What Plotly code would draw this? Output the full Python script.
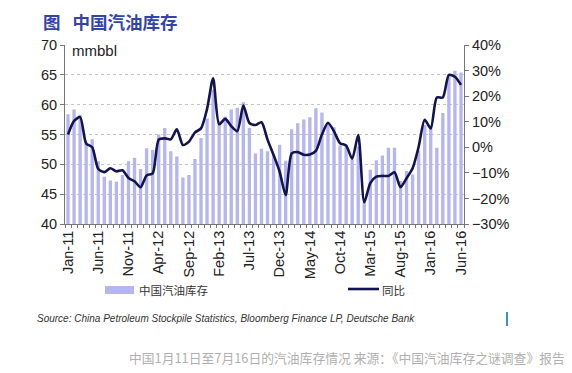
import plotly.graph_objects as go

# ---- data ----
tick_labels = ["Jan-11", "Jun-11", "Nov-11", "Apr-12", "Sep-12", "Feb-13", "Jul-13",
               "Dec-13", "May-14", "Oct-14", "Mar-15", "Aug-15", "Jan-16", "Jun-16"]

stock_mmbbl = [58.4, 59.2, 58.3, 53.4, 54.2, 50.5, 47.9, 47.3, 47.1, 48.2,
               50.5, 51.1, 49.2, 52.7, 52.4, 55.0, 56.1, 52.2, 51.3, 47.8,
               48.2, 50.9, 54.4, 57.7, 62.5, 57.3, 58.0, 59.2, 59.5, 60.4,
               56.1, 51.8, 52.6, 52.2, 51.5, 53.3, 50.6, 55.9, 56.9, 57.5,
               57.9, 59.4, 58.7, 56.8, 56.2, 53.2, 53.2, 50.8, 53.0, 43.8,
               49.1, 50.7, 51.5, 52.8, 52.8, 47.2, 48.9, 48.3, 52.3, 56.6,
               56.5, 52.8, 58.6, 65.0, 65.7, 65.4]

yoy_pct = [5.0, 10.3, 11.8, 1.5, 0.0, -8.5, -9.7, -8.2, -9.4, -9.0,
           -12.0, -13.3, -15.6, -11.0, -10.2, 3.0, 3.5, 3.1, 7.0, 0.9,
           2.2, 5.8, 7.4, 15.0, 27.0, 9.0, 11.1, 8.3, 6.3, 16.3,
           9.5, 8.7, 9.8, 3.0, -3.0, -9.5, -18.7, -2.4, -1.9, -2.9,
           -2.8, -1.4, 5.0, 9.6, 6.2, 1.6, 0.7, -4.5, 4.8, -21.5,
           -14.0, -11.5, -11.2, -11.2, -9.8, -15.6, -12.1, -8.2, 0.2, 10.8,
           7.4, 19.5, 19.5, 28.3, 27.6, 24.4]

bar_name = "中国汽油库存"
line_name = "同比"

x_idx = list(range(len(stock_mmbbl)))
tick_pos = x_idx[::5]

BAR_COLOR = "#b5b5ef"
LINE_COLOR = "#13134f"
CJK = "Noto Sans CJK SC"
LAT = "Liberation Sans"

# page has an 8px body margin: work in reference pixels, shift by OFF
OFF = 8
W, H = 572 - OFF, 373 - OFF
L, R, T, B = 65 - OFF, 464 - OFF, 45 - OFF, 224 - OFF


def px(xp):
    return (xp - OFF - L) / (R - L)


def py(yp):
    return (B - (yp - OFF)) / (B - T)


fig = go.Figure()
fig.add_trace(go.Bar(x=x_idx, y=stock_mmbbl, name=bar_name, marker_color=BAR_COLOR,
                     marker_line_width=0, width=0.55, yaxis="y"))
fig.add_trace(go.Scatter(x=x_idx, y=yoy_pct, name=line_name, mode="lines",
                         line=dict(color=LINE_COLOR, width=2.6, shape="spline", smoothing=0.7),
                         yaxis="y2"))

TF = dict(size=14.5, color="#222", family=LAT)

fig.update_layout(
    width=W, height=H, autosize=False,
    margin=dict(l=L, r=W - R, t=T, b=H - B, pad=0),
    paper_bgcolor="white", plot_bgcolor="white",
    showlegend=False,
    font=dict(family=LAT, color="#222"),
    xaxis=dict(range=[-0.5, len(x_idx) - 0.5], tickmode="array", tickvals=tick_pos,
               ticktext=tick_labels, tickangle=-90, ticks="", ticklen=4,
               tickfont=TF,
               showline=True, linecolor="#777", linewidth=1, showgrid=False, zeroline=False,
               minor=dict(tick0=0.5, dtick=1, ticks="outside", ticklen=3, tickcolor="#777")),
    yaxis=dict(range=[40, 70], dtick=5, ticks="outside", ticklen=4, tickcolor="#777",
               tickfont=TF,
               showline=True, linecolor="#777", linewidth=1,
               showgrid=True, gridcolor="#c4c4c4", griddash="dot", gridwidth=1, zeroline=False),
    yaxis2=dict(range=[-30, 40], dtick=10, ticksuffix="%", overlaying="y", side="right",
                ticks="outside", ticklen=4, tickcolor="#777",
                tickfont=TF,
                showline=True, linecolor="#777", linewidth=1, showgrid=False, zeroline=False),
)

ann = []
shapes = []

# title
ann.append(dict(text="<b>图&nbsp;&nbsp;&nbsp;中国汽油库存</b>", x=px(42), y=py(8.5), xref="paper", yref="paper",
                xanchor="left", yanchor="top", showarrow=False, borderpad=0,
                font=dict(family=CJK, size=17.5, color="#3344a8")))
# unit label
ann.append(dict(text="mmbbl", x=px(70), y=py(51), xref="paper", yref="paper",
                xanchor="left", yanchor="middle", showarrow=False,
                font=dict(family=LAT, size=15, color="#222")))
# legend: bar
shapes.append(dict(type="rect", xref="paper", yref="paper", x0=px(105), x1=px(134),
                   y0=py(294), y1=py(286), fillcolor=BAR_COLOR, line_width=0))
ann.append(dict(text=bar_name, x=px(137), y=py(290), xref="paper", yref="paper",
                xanchor="left", yanchor="middle", showarrow=False,
                font=dict(family=CJK, size=11.5, color="#333")))
# legend: line
shapes.append(dict(type="line", xref="paper", yref="paper", x0=px(348), x1=px(379),
                   y0=py(289), y1=py(289), line=dict(color=LINE_COLOR, width=2.6)))
ann.append(dict(text=line_name, x=px(380), y=py(290), xref="paper", yref="paper",
                xanchor="left", yanchor="middle", showarrow=False,
                font=dict(family=CJK, size=11.5, color="#333")))
# source
ann.append(dict(text="<i>Source: China Petroleum Stockpile Statistics, Bloomberg Finance LP, Deutsche Bank</i>",
                x=px(35), y=py(318), xref="paper", yref="paper",
                xanchor="left", yanchor="middle", showarrow=False,
                font=dict(family=LAT, size=10, color="#333")))
# small blue mark
shapes.append(dict(type="line", xref="paper", yref="paper", x0=px(507), x1=px(507),
                   y0=py(312), y1=py(326), line=dict(color="#3a8fd6", width=2)))
# caption
ann.append(dict(text="中国1月11日至7月16日的汽油库存情况 来源：《中国汽油库存之谜调查》报告",
                x=px(127), y=py(357), xref="paper", yref="paper",
                xanchor="left", yanchor="middle", showarrow=False,
                font=dict(family=CJK, size=12.8, color="#b0b0b0")))

fig.update_layout(annotations=ann, shapes=shapes)
fig.write_html("out.html")
